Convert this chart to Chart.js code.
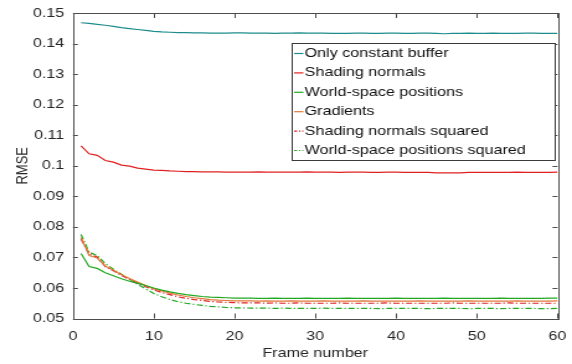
<!DOCTYPE html>
<html>
<head>
<meta charset="utf-8">
<script src="https://cdn.jsdelivr.net/npm/chart.js@4"></script>
<style>
  html, body { margin: 0; padding: 0; background: #fff; }
  /* the reference figure is stretched sideways, so the canvas is too */
  #rmseChart { display: block; width: 572px; height: 364px; }
</style>
</head>
<body>
<canvas id="rmseChart" width="461" height="364" style="width:572px;height:364px"></canvas>
<script>
/* ===============================
   DATA
================================ */
const frames = [
  1, 2, 3, 4, 5, 6, 7, 8, 9, 10, 11, 12, 13, 14, 15, 16, 17, 18, 19, 20,
  21, 22, 23, 24, 25, 26, 27, 28, 29, 30, 31, 32, 33, 34, 35, 36, 37, 38, 39, 40,
  41, 42, 43, 44, 45, 46, 47, 48, 49, 50, 51, 52, 53, 54, 55, 56, 57, 58, 59, 60,
];

const xTicks = [0, 10, 20, 30, 40, 50, 60];
const yTicks = [0.05, 0.06, 0.07, 0.08, 0.09, 0.1, 0.11, 0.12, 0.13, 0.14, 0.15];

const seriesNames = [
  "Only constant buffer",
  "Shading normals",
  "World-space positions",
  "Gradients",
  "Shading normals squared",
  "World-space positions squared",
];

const constantBuffer = [
  0.1468, 0.1466, 0.1463, 0.1460, 0.1456, 0.1452, 0.1449, 0.1446, 0.1443, 0.1440,
  0.1438, 0.1437, 0.1436, 0.1436, 0.1435, 0.1435, 0.1434, 0.1434, 0.1434, 0.1435,
  0.1435, 0.1434, 0.1434, 0.1434, 0.1433, 0.1434, 0.1434, 0.1435, 0.1434, 0.1434,
  0.1434, 0.1433, 0.1433, 0.1433, 0.1434, 0.1434, 0.1433, 0.1433, 0.1434, 0.1434,
  0.1433, 0.1433, 0.1434, 0.1434, 0.1433, 0.1432, 0.1433, 0.1433, 0.1434, 0.1433,
  0.1433, 0.1434, 0.1433, 0.1433, 0.1433, 0.1434, 0.1434, 0.1433, 0.1433, 0.1433,
];

const shadingNormals = [
  0.1065, 0.1039, 0.1034, 0.1017, 0.1012, 0.1002, 0.0999, 0.0992, 0.0989, 0.0986,
  0.0985, 0.0983, 0.0982, 0.0981, 0.0981, 0.0980, 0.0980, 0.0980, 0.0979, 0.0979,
  0.0979, 0.0979, 0.0980, 0.0979, 0.0979, 0.0979, 0.0979, 0.0979, 0.0980, 0.0979,
  0.0979, 0.0979, 0.0978, 0.0979, 0.0979, 0.0979, 0.0978, 0.0978, 0.0979, 0.0979,
  0.0978, 0.0978, 0.0978, 0.0978, 0.0977, 0.0977, 0.0977, 0.0977, 0.0978, 0.0978,
  0.0978, 0.0978, 0.0978, 0.0978, 0.0979, 0.0978, 0.0978, 0.0978, 0.0978, 0.0979,
];

const worldPositions = [
  0.0713, 0.0670, 0.0664, 0.0650, 0.0640, 0.0630, 0.0622, 0.0615, 0.0608, 0.0600,
  0.0593, 0.0587, 0.0582, 0.0578, 0.0575, 0.0572, 0.0570, 0.0569, 0.0568, 0.0567,
  0.0567, 0.0567, 0.0566, 0.0566, 0.0567, 0.0566, 0.0566, 0.0566, 0.0567, 0.0566,
  0.0566, 0.0566, 0.0566, 0.0567, 0.0566, 0.0566, 0.0566, 0.0566, 0.0566, 0.0567,
  0.0566, 0.0566, 0.0566, 0.0566, 0.0566, 0.0567, 0.0566, 0.0566, 0.0566, 0.0566,
  0.0566, 0.0566, 0.0567, 0.0566, 0.0566, 0.0566, 0.0566, 0.0566, 0.0567, 0.0567,
];

const gradients = [
  0.0765, 0.0706, 0.0698, 0.0672, 0.0658, 0.0643, 0.0631, 0.0619, 0.0608, 0.0597,
  0.0590, 0.0583, 0.0577, 0.0572, 0.0568, 0.0565, 0.0562, 0.0560, 0.0559, 0.0558,
  0.0558, 0.0558, 0.0557, 0.0558, 0.0557, 0.0557, 0.0558, 0.0557, 0.0557, 0.0557,
  0.0558, 0.0557, 0.0557, 0.0557, 0.0557, 0.0558, 0.0557, 0.0557, 0.0557, 0.0557,
  0.0557, 0.0557, 0.0558, 0.0557, 0.0557, 0.0557, 0.0557, 0.0557, 0.0558, 0.0557,
  0.0557, 0.0557, 0.0557, 0.0557, 0.0558, 0.0557, 0.0557, 0.0557, 0.0557, 0.0558,
];

const normalsSquared = [
  0.0760, 0.0711, 0.0701, 0.0670, 0.0656, 0.0641, 0.0628, 0.0616, 0.0604, 0.0594,
  0.0585, 0.0578, 0.0571, 0.0566, 0.0562, 0.0559, 0.0556, 0.0554, 0.0553, 0.0552,
  0.0551, 0.0551, 0.0551, 0.0550, 0.0551, 0.0550, 0.0550, 0.0551, 0.0550, 0.0550,
  0.0550, 0.0550, 0.0551, 0.0550, 0.0550, 0.0550, 0.0550, 0.0550, 0.0551, 0.0550,
  0.0550, 0.0550, 0.0550, 0.0550, 0.0550, 0.0550, 0.0551, 0.0550, 0.0550, 0.0550,
  0.0550, 0.0550, 0.0550, 0.0551, 0.0550, 0.0550, 0.0550, 0.0550, 0.0550, 0.0550,
];

const positionsSquared = [
  0.0775, 0.0717, 0.0706, 0.0680, 0.0661, 0.0645, 0.0628, 0.0612, 0.0597, 0.0582,
  0.0571, 0.0562, 0.0555, 0.0550, 0.0546, 0.0543, 0.0540, 0.0538, 0.0536, 0.0535,
  0.0535, 0.0534, 0.0534, 0.0534, 0.0533, 0.0534, 0.0533, 0.0533, 0.0533, 0.0533,
  0.0534, 0.0533, 0.0533, 0.0533, 0.0533, 0.0533, 0.0533, 0.0532, 0.0533, 0.0533,
  0.0533, 0.0533, 0.0533, 0.0532, 0.0533, 0.0533, 0.0533, 0.0533, 0.0532, 0.0533,
  0.0533, 0.0533, 0.0532, 0.0533, 0.0533, 0.0533, 0.0533, 0.0532, 0.0532, 0.0533,
];

/* ===============================
   STYLE
================================ */
const FONT = "'Liberation Sans', Arial, Helvetica, sans-serif";
const TEXT_COLOR = "#262626";
const AXIS_COLOR = "#4d4d4d";
const S = 572 / 461; // horizontal stretch of the page canvas
const DASH_DOT = [5, 2, 1.2, 2];

const seriesValues = [
  constantBuffer, shadingNormals, worldPositions,
  gradients, normalsSquared, positionsSquared,
];
const seriesColors = ["#1f8c8c", "#e02020", "#20a820", "#e0793a", "#e02020", "#20a820"];
const seriesDash = [[], [], [], [], DASH_DOT, DASH_DOT];

const toPoints = (values) => values.map((v, i) => ({ x: frames[i], y: v }));

/* ===============================
   PLUGINS
================================ */
// matlab style box with inward ticks on all four sides
const boxPlugin = {
  id: "boxPlugin",
  afterDatasetsDraw(chart) {
    const { ctx, chartArea: a, scales } = chart;
    const tlx = 5, tly = 4;
    ctx.save();
    ctx.strokeStyle = AXIS_COLOR;
    ctx.lineWidth = 1;
    ctx.beginPath();
    xTicks.forEach((t) => {
      const px = Math.round(scales.x.getPixelForValue(t)) + 0.5;
      ctx.moveTo(px, a.bottom);
      ctx.lineTo(px, a.bottom - tlx);
      ctx.moveTo(px, a.top);
      ctx.lineTo(px, a.top + tlx);
    });
    yTicks.forEach((t) => {
      const py = Math.round(scales.y.getPixelForValue(t)) + 0.5;
      ctx.moveTo(a.left, py);
      ctx.lineTo(a.left + tly, py);
      ctx.moveTo(a.right, py);
      ctx.lineTo(a.right - tly, py);
    });
    ctx.stroke();
    ctx.strokeRect(
      Math.round(a.left) + 0.5, Math.round(a.top) + 0.5,
      Math.round(a.right - a.left), Math.round(a.bottom - a.top)
    );
    ctx.restore();
  },
};

// boxed legend drawn inside the plot area
const legendBoxPlugin = {
  id: "legendBoxPlugin",
  afterDraw(chart) {
    const { ctx } = chart;
    const x0 = Math.round(291.7 / S) + 0.5, y0 = 43.5;
    const w = Math.round(262.6 / S), h = 117;
    const rowH = 19.4;
    ctx.save();
    ctx.fillStyle = "#fff";
    ctx.fillRect(x0, y0, w, h);
    ctx.strokeStyle = "#3a3a3a";
    ctx.lineWidth = 1;
    ctx.strokeRect(x0, y0, w, h);
    ctx.font = "13px " + FONT;
    ctx.textBaseline = "middle";
    chart.data.datasets.forEach((ds, i) => {
      const cy = y0 + 10 + i * rowH;
      ctx.strokeStyle = ds.borderColor;
      ctx.lineWidth = 1.2;
      ctx.setLineDash(ds.borderDash.length ? [2.5, 1.5, 1, 1.5] : []);
      ctx.beginPath();
      ctx.moveTo(x0 + 1.5, cy);
      ctx.lineTo(x0 + 9, cy);
      ctx.stroke();
      ctx.setLineDash([]);
      ctx.fillStyle = "#111";
      ctx.fillText(ds.label, x0 + 10, cy);
    });
    ctx.restore();
  },
};

/* ===============================
   CHART
================================ */
new Chart(document.getElementById("rmseChart"), {
  type: "line",
  data: {
    datasets: seriesNames.map((name, i) => ({
      label: name,
      data: toPoints(seriesValues[i]),
      borderColor: seriesColors[i],
      borderDash: seriesDash[i],
      borderWidth: 1.2,
      pointRadius: 0,
      tension: 0,
      fill: false,
    })),
  },
  options: {
    responsive: false,
    animation: false,
    devicePixelRatio: 1,
    layout: { padding: { left: 0, right: 11.7, top: 13, bottom: 0 } },
    plugins: {
      legend: { display: false },
      tooltip: { enabled: false },
    },
    scales: {
      x: {
        type: "linear",
        min: 0,
        max: 60,
        afterBuildTicks: (s) => { s.ticks = xTicks.map((v) => ({ value: v })); },
        afterFit: (s) => {
          s.height = 45.5;
          s.paddingLeft = 0;
          s.paddingRight = 0;
        },
        grid: { display: false, drawTicks: false },
        border: { display: false },
        ticks: {
          padding: 10,
          color: TEXT_COLOR,
          font: { family: FONT, size: 13 },
          maxRotation: 0,
        },
        title: {
          display: true,
          text: "Frame number",
          color: TEXT_COLOR,
          font: { family: FONT, size: 13 },
          padding: { top: 0, bottom: 3 },
        },
      },
      y: {
        type: "linear",
        min: 0.05,
        max: 0.15,
        afterBuildTicks: (s) => { s.ticks = yTicks.map((v) => ({ value: v })); },
        afterFit: (s) => {
          s.width = 58.8;
          s.paddingTop = 0;
          s.paddingBottom = 0;
        },
        grid: { display: false, drawTicks: false },
        border: { display: false },
        ticks: {
          padding: 7,
          color: TEXT_COLOR,
          font: { family: FONT, size: 13 },
          callback: (v) => String(Number(v.toFixed(2))),
        },
        title: {
          display: true,
          text: "RMSE",
          color: TEXT_COLOR,
          font: { family: FONT, size: 13 },
          padding: { top: 10.3, bottom: 0 },
        },
      },
    },
  },
  plugins: [boxPlugin, legendBoxPlugin],
});
</script>
</body>
</html>
